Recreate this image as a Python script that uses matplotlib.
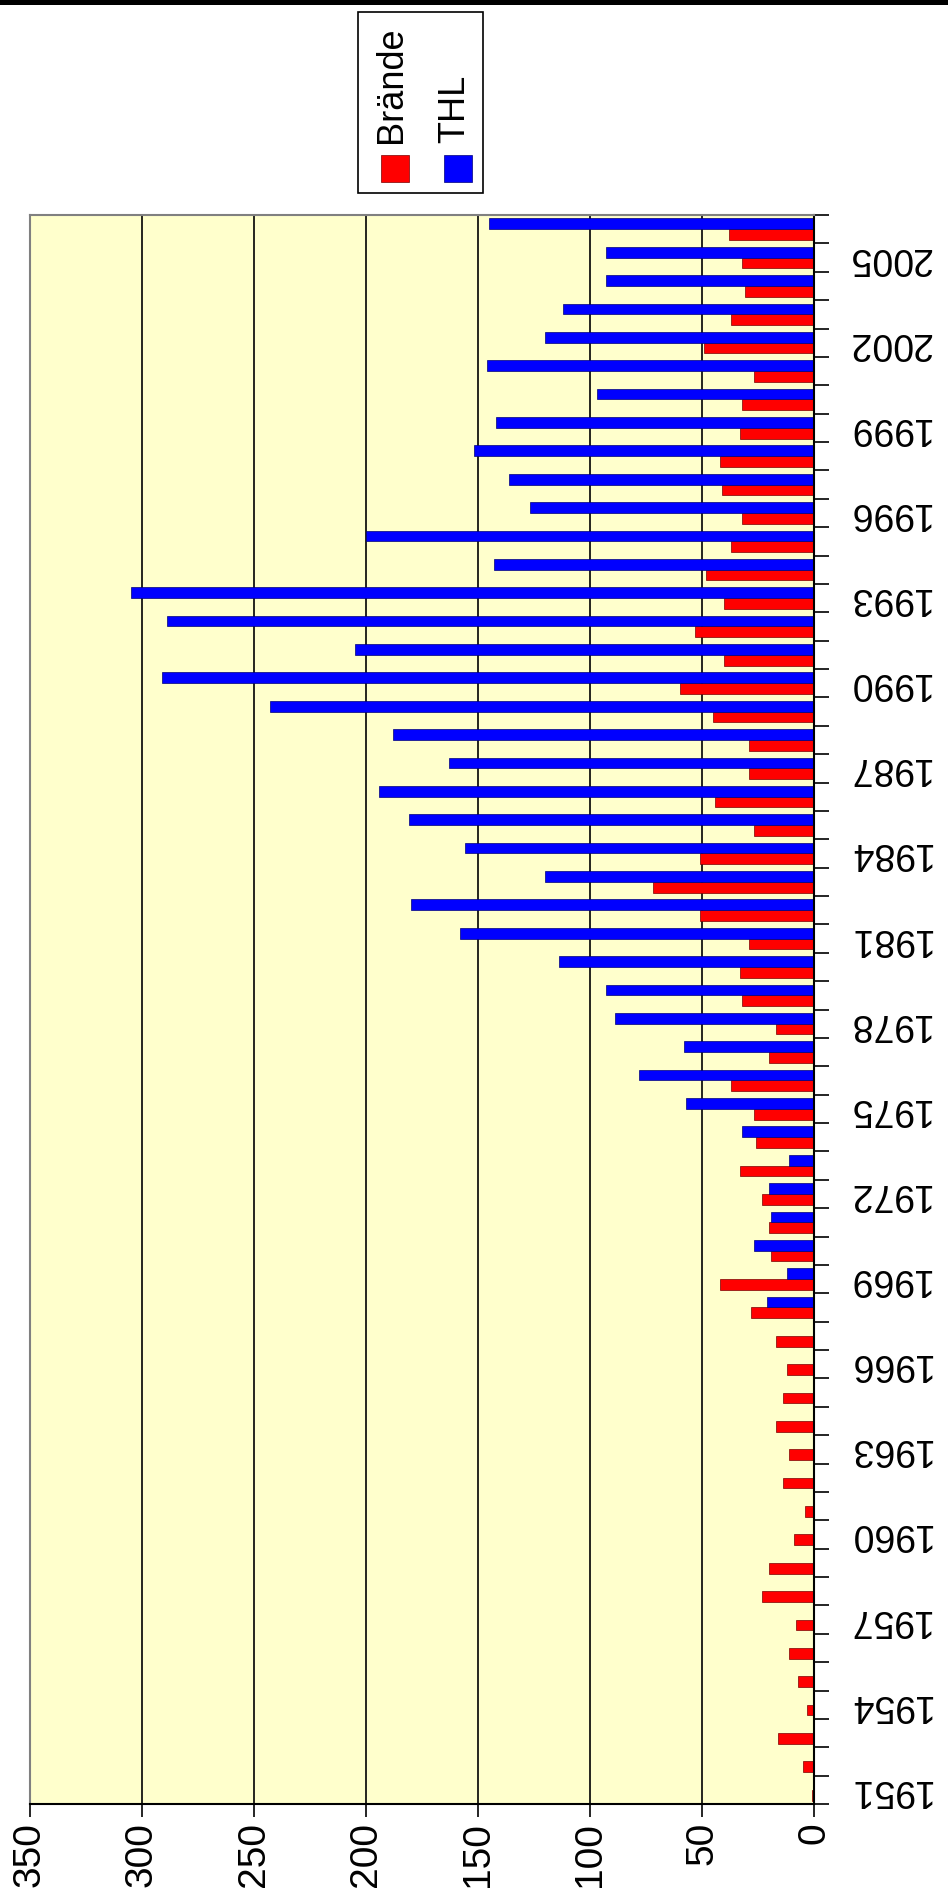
import numpy as np
import matplotlib.pyplot as plt
from matplotlib.patches import Rectangle

plt.rcParams['font.family'] = ['Liberation Sans', 'DejaVu Sans']

# Einsätze pro Jahr
years = list(range(1951, 2007))
braende = [1, 5, 16, 3, 7, 11, 8, 23, 20, 9,
           4, 14, 11, 17, 14, 12, 17, 28, 42, 19,
           20, 23, 33, 26, 27, 37, 20, 17, 32, 33,
           29, 51, 72, 51, 27, 44, 29, 29, 45, 60,
           40, 53, 40, 48, 37, 32, 41, 42, 33, 32,
           27, 49, 37, 31, 32, 38]
thl = [0, 0, 0, 0, 0, 0, 0, 0, 0, 0,
       0, 0, 0, 0, 0, 0, 0, 21, 12, 27,
       19, 20, 11, 32, 57, 78, 58, 89, 93, 114,
       158, 180, 120, 156, 181, 194, 163, 188, 243, 291,
       205, 289, 305, 143, 200, 127, 136, 152, 142, 97,
       146, 120, 112, 93, 93, 145]
value_ticks = [0, 50, 100, 150, 200, 250, 300, 350]
year_labels = years[::3]

fig = plt.figure(figsize=(9.48, 19.03), dpi=100)
W, H = 948, 1903
ax = fig.add_axes([30 / W, 99 / H, 784 / W, 1589 / H])
ax.set_facecolor('#FFFFCC')

pos = np.arange(len(years))
w = 0.38
ax.barh(pos - w / 2, braende, height=w, color='#FF0000', edgecolor='#7a0000', linewidth=0.5)
ax.barh(pos + w / 2, thl, height=w, color='#0000FF', edgecolor='#00007a', linewidth=0.5)

ax.set_xlim(350, 0)
ax.set_ylim(-0.5, len(years) - 0.5)
ax.set_xticks(value_ticks)
ax.xaxis.grid(True, color='black', linewidth=1.2)
ax.set_axisbelow(True)
ax.tick_params(axis='x', direction='out', length=9, width=1.2, labelsize=28,
               labelrotation=90, pad=4)

ax.yaxis.tick_right()
ax.set_yticks(pos[::3])
ax.set_yticklabels(year_labels, rotation=180, va='center')
ax.set_yticks(np.arange(-0.5, len(years)), minor=True)
ax.tick_params(axis='y', which='major', length=0, pad=24, labelsize=27)
ax.tick_params(axis='y', which='minor', direction='out', length=11, width=1.2)

for s in ['left', 'top']:
    ax.spines[s].set_color('#808080')
    ax.spines[s].set_linewidth(1.5)
for s in ['right', 'bottom']:
    ax.spines[s].set_color('black')
    ax.spines[s].set_linewidth(1.5)

# legend, drawn rotated like the rest of the chart
fig.patches.append(Rectangle((358 / W, 1 - 193 / H), 125 / W, 181 / H,
                             transform=fig.transFigure, facecolor='white',
                             edgecolor='black', linewidth=1.2))
fig.patches.append(Rectangle((381 / W, 1 - 182 / H), 28 / W, 27 / H,
                             transform=fig.transFigure, facecolor='#FF0000',
                             edgecolor='#7a0000', linewidth=0.5))
fig.patches.append(Rectangle((444 / W, 1 - 182 / H), 28 / W, 27 / H,
                             transform=fig.transFigure, facecolor='#0000FF',
                             edgecolor='#00007a', linewidth=0.5))
fig.text(392 / W, 1 - 143 / H, 'Brände', rotation=90, ha='center', va='bottom', fontsize=26)
fig.text(455 / W, 1 - 143 / H, 'THL', rotation=90, ha='center', va='bottom', fontsize=26)

# dark strip along the top edge
fig.patches.append(Rectangle((0, 1 - 5 / H), 1, 5 / H, transform=fig.transFigure,
                             facecolor='black', edgecolor='none'))

fig.savefig('out.png', dpi=100)
